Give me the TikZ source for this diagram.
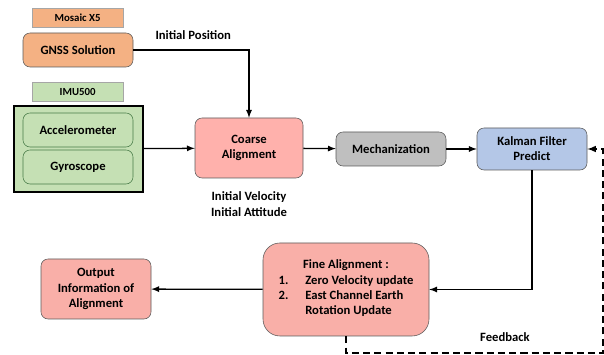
\documentclass[tikz,border=0pt]{standalone}
\usepackage{fontspec}
\setmainfont{Carlito}
\usepackage{tikz}
\usetikzlibrary{positioning,shapes,arrows}

\definecolor{gnssorange}{HTML}{F4B183}
\definecolor{imugreen}{HTML}{C5E0B4}
\definecolor{alignpink}{HTML}{FFB1AC}
\definecolor{finepink}{HTML}{F9AFA8}
\definecolor{mechgray}{HTML}{BFBFBF}
\definecolor{kfblue}{HTML}{B4C7E7}
\definecolor{edgegray}{HTML}{5A5A5A}

\begin{document}
\begin{tikzpicture}[auto, >=latex, font=\fontsize{9}{10.8}\selectfont\bfseries]
      \tikzstyle{blk} = [draw=edgegray, rectangle, rounded corners=5pt, align=center, inner sep=2pt, minimum width=2.75cm, minimum height=0.85cm]
      \tikzstyle{tag} = [draw=gray!70, rectangle, minimum width=2.28cm, minimum height=0.47cm, font=\fontsize{7.7}{9}\selectfont\bfseries]
      \tikzstyle{lbl} = [align=center, inner sep=1pt]
      \tikzstyle{link} = [->, line width=0.9pt]
      \useasboundingbox (0, 0) rectangle (15.1, 8.875);

      % GNSS receiver
      \node [tag, fill=gnssorange] (mosaic) at (1.94, 8.44) {Mosaic X5};
      \node [blk, fill=gnssorange] (gnss) at (1.95, 7.625) {GNSS Solution};
      \node [lbl] (initpos) at (4.83, 8.0) {Initial Position};

      % IMU with its two sensors
      \node [tag, fill=imugreen] (imu) at (1.94, 6.575) {IMU500};
      \node [draw, line width=1.6pt, fill=imugreen, minimum width=3.225cm, minimum height=2.15cm] (imubox) at (1.96, 5.15) {};
      \node [blk, fill=imugreen, draw=edgegray!80!green] (acc) at (1.95, 5.625) {Accelerometer};
      \node [blk, fill=imugreen, draw=edgegray!80!green] (gyro) at (1.95, 4.7) {Gyroscope};

      % alignment chain
      \node [blk, fill=alignpink, minimum width=2.7cm, minimum height=1.5cm] (coarse) at (6.225, 5.175) {Coarse\\Alignment};
      \node [lbl, below=0.28cm of coarse, font=\fontsize{9}{11.4}\selectfont\bfseries] (initva) {Initial Velocity\\Initial Attitude};
      \node [blk, fill=mechgray] (mech) at (9.775, 5.15) {Mechanization};
      \node [blk, fill=kfblue, minimum height=1.05cm] (kf) at (13.3, 5.15) {Kalman Filter\\Predict};
      \node [blk, fill=finepink, rounded corners=12pt, minimum width=4.15cm, minimum height=2.325cm] (fine) at (8.65, 1.6375)
        {Fine Alignment :\\[1pt]
         \begin{tabular}{@{}l@{\hspace{12pt}}l@{}}
           1. & Zero Velocity update\\
           2. & East Channel Earth\\
              & Rotation Update
         \end{tabular}};
      \node [blk, fill=finepink, minimum height=1.5cm] (out) at (2.4, 1.65) {Output\\Information of\\Alignment};
      \node [lbl] (fb) at (12.625, 0.45) {Feedback};

      \draw [link] (gnss) -| (coarse);
      \draw [link] (imubox) -- (coarse);
      \foreach \a/\b in {coarse/mech, mech/kf} {
        \draw [link] (\a) -- (\b);
      }
      \draw [link] (kf) |- (fine);
      \draw [link] (fine) -- (out);

      % feedback loop back into the filter
      \coordinate (fbcorner) at (15.075, 0.05);
      \draw [->, line width=1.1pt, dash pattern=on 5pt off 3pt] (fine.south) -- (fine.south |- fbcorner) -- (fbcorner) |- (kf.east);
\end{tikzpicture}
\end{document}
